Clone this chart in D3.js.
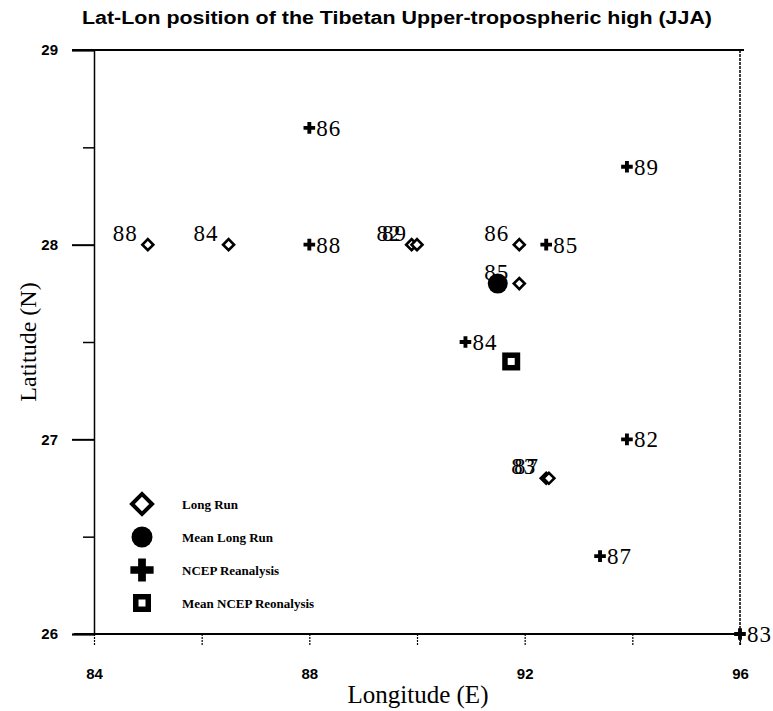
<!DOCTYPE html>
<html>
<head>
  <title>Lat-Lon position of the Tibetan Upper-tropospheric high</title>
  <style>
    html, body {
      margin: 0;
      padding: 0;
      background: #fff;
    }
    .tick-label {
      font-family: "Liberation Sans", Arial, sans-serif;
      font-weight: bold;
      font-size: 15px;
    }
    .year {
      font-family: "Liberation Serif", "Times New Roman", serif;
      font-size: 23px;
      letter-spacing: 1px;
    }
    .legend-text {
      font-family: "Liberation Serif", "Times New Roman", serif;
      font-weight: bold;
      font-size: 13px;
    }
  </style>
  <script src="https://d3js.org/d3.v7.min.js"></script>
</head>
<body>
  <div id="chart"></div>
  <script>
    // Long Run (model) positions, one per year
    const longRunYears = ["88", "84", "82", "89", "86", "85", "83", "87"];
    const longRunLon = [85, 86.5, 89.9, 90.0, 91.9, 91.9, 92.4, 92.45];
    const longRunLat = [28, 28, 28, 28, 28, 27.8, 26.8, 26.8];

    // NCEP reanalysis positions
    const ncepYears = ["86", "88", "85", "89", "84", "82", "87", "83"];
    const ncepLon = [88, 88, 92.4, 93.9, 90.9, 93.9, 93.4, 96];
    const ncepLat = [28.6, 28, 28, 28.4, 27.5, 27, 26.4, 26];

    // means
    const meanLongRun = [91.5, 27.8];
    const meanNcep = [91.75, 27.4];

    const legendLabels = ["Long Run", "Mean Long Run", "NCEP Reanalysis", "Mean NCEP Reonalysis"];
    const xTickValues = [84, 86, 88, 90, 92, 94, 96];
    const xTickLabels = [84, 88, 92, 96];
    const yTickValues = [26, 27, 28, 29];
    const yMinorTicks = [26.5, 27.5, 28.5];

    const width = 773, height = 711;

    const svg = d3.select("#chart").append("svg")
      .attr("width", width)
      .attr("height", height);

    const x = d3.scaleLinear().domain([84, 96]).range([94, 740]);
    const y = d3.scaleLinear().domain([26, 29]).range([634, 50]);

    // title
    svg.append("text")
      .attr("x", 82)
      .attr("y", 24)
      .attr("textLength", 630)
      .attr("lengthAdjust", "spacingAndGlyphs")
      .style("font-family", "'Liberation Sans', Arial, sans-serif")
      .style("font-weight", "bold")
      .style("font-size", "18px")
      .text("Lat-Lon position of the Tibetan Upper-tropospheric high (JJA)");

    // frame lines
    svg.append("line")
      .attr("x1", x(84) - 22).attr("x2", x(96) + 4)
      .attr("y1", y(29)).attr("y2", y(29))
      .attr("stroke", "#000").attr("stroke-width", 2);
    svg.append("line")
      .attr("x1", x(84) - 20).attr("x2", x(96))
      .attr("y1", y(26)).attr("y2", y(26))
      .attr("stroke", "#000").attr("stroke-width", 2);
    svg.append("line")
      .attr("x1", x(96)).attr("x2", x(96))
      .attr("y1", y(29)).attr("y2", y(26) + 12)
      .attr("stroke", "#000").attr("stroke-width", 1.5)
      .attr("stroke-dasharray", "3,1");

    // left axis
    const yAxis = svg.append("g")
      .attr("transform", `translate(${x(84)},0)`)
      .call(d3.axisLeft(y).tickValues(yTickValues).tickSize(22).tickPadding(14).tickFormat(d3.format("d")));
    yAxis.select(".domain").attr("stroke-width", 1.5);
    yAxis.selectAll(".tick line").attr("stroke-width", 2);
    yAxis.selectAll(".tick text").attr("class", "tick-label").attr("fill", "#000");

    const yMinor = svg.append("g")
      .attr("transform", `translate(${x(84)},0)`)
      .call(d3.axisLeft(y).tickValues(yMinorTicks).tickSize(11).tickFormat(""));
    yMinor.select(".domain").remove();
    yMinor.selectAll(".tick line").attr("stroke-width", 1.5);

    // bottom axis
    const xAxis = svg.append("g")
      .attr("transform", `translate(0,${y(26)})`)
      .call(d3.axisBottom(x).tickValues(xTickValues).tickSize(12).tickPadding(22)
        .tickFormat(d => xTickLabels.includes(d) ? d : ""));
    xAxis.select(".domain").remove();
    xAxis.selectAll(".tick line")
      .attr("stroke-width", 1.2)
      .attr("stroke-dasharray", "2,1");
    xAxis.selectAll(".tick text").attr("class", "tick-label").attr("fill", "#000");

    // axis titles
    svg.append("text")
      .attr("x", 418)
      .attr("y", 703)
      .attr("text-anchor", "middle")
      .style("font-family", "'Liberation Serif', 'Times New Roman', serif")
      .style("font-size", "25px")
      .text("Longitude (E)");
    svg.append("text")
      .attr("transform", "translate(36,342) rotate(-90)")
      .attr("text-anchor", "middle")
      .style("font-family", "'Liberation Serif', 'Times New Roman', serif")
      .style("font-size", "24px")
      .text("Latitude (N)");

    const diamond = d3.symbol().type(d3.symbolSquare);
    const cross = d3.symbol().type(d3.symbolCross);

    const longRun = longRunYears.map((yr, i) => ({ yr, lon: longRunLon[i], lat: longRunLat[i] }));
    const ncep = ncepYears.map((yr, i) => ({ yr, lon: ncepLon[i], lat: ncepLat[i] }));

    // mean long run circle
    svg.append("circle")
      .attr("cx", x(meanLongRun[0]))
      .attr("cy", y(meanLongRun[1]))
      .attr("r", 10)
      .attr("fill", "#000");

    // long run diamonds, year labels to the upper left (some overlap as in the original)
    const lr = svg.append("g");
    lr.selectAll("path")
      .data(longRun)
      .join("path")
      .attr("d", diamond.size(60))
      .attr("transform", d => `translate(${x(d.lon)},${y(d.lat)}) rotate(45)`)
      .attr("fill", "#fff")
      .attr("stroke", "#000")
      .attr("stroke-width", 2.6);
    lr.selectAll("text")
      .data(longRun)
      .join("text")
      .attr("class", "year")
      .attr("x", d => x(d.lon) - 10)
      .attr("y", d => y(d.lat) - 4)
      .attr("text-anchor", "end")
      .text(d => d.yr);

    // NCEP crosses with year labels to the right
    const nc = svg.append("g");
    nc.selectAll("path")
      .data(ncep)
      .join("path")
      .attr("d", cross.size(75))
      .attr("transform", d => `translate(${x(d.lon)},${y(d.lat)})`)
      .attr("fill", "#000");
    nc.selectAll("text")
      .data(ncep)
      .join("text")
      .attr("class", "year")
      .attr("x", d => x(d.lon) + 7)
      .attr("y", d => y(d.lat) + 8)
      .text(d => d.yr);

    // mean NCEP square
    svg.append("rect")
      .attr("x", x(meanNcep[0]) - 9)
      .attr("y", y(meanNcep[1]) - 9)
      .attr("width", 18).attr("height", 18)
      .attr("fill", "#000");
    svg.append("rect")
      .attr("x", x(meanNcep[0]) - 3.5)
      .attr("y", y(meanNcep[1]) - 3.5)
      .attr("width", 7).attr("height", 7)
      .attr("fill", "#fff");

    // legend
    const legendY = d3.scalePoint().domain(legendLabels).range([504, 603]);
    const lg = svg.append("g");
    const sx = 142;
    lg.append("path")
      .attr("d", diamond.size(200))
      .attr("transform", `translate(${sx},${legendY(legendLabels[0])}) rotate(45)`)
      .attr("fill", "#fff").attr("stroke", "#000").attr("stroke-width", 4);
    lg.append("circle")
      .attr("cx", sx).attr("cy", legendY(legendLabels[1]))
      .attr("r", 10.5).attr("fill", "#000");
    lg.append("path")
      .attr("d", cross.size(300))
      .attr("transform", `translate(${sx},${legendY(legendLabels[2])})`)
      .attr("fill", "#000");
    lg.append("rect")
      .attr("x", sx - 9).attr("y", legendY(legendLabels[3]) - 9)
      .attr("width", 18).attr("height", 18).attr("fill", "#000");
    lg.append("rect")
      .attr("x", sx - 3.5).attr("y", legendY(legendLabels[3]) - 3.5)
      .attr("width", 7).attr("height", 7).attr("fill", "#fff");
    lg.selectAll("text")
      .data(legendLabels)
      .join("text")
      .attr("class", "legend-text")
      .attr("x", 182)
      .attr("y", d => legendY(d) + 5)
      .text(d => d);
  </script>
</body>
</html>
